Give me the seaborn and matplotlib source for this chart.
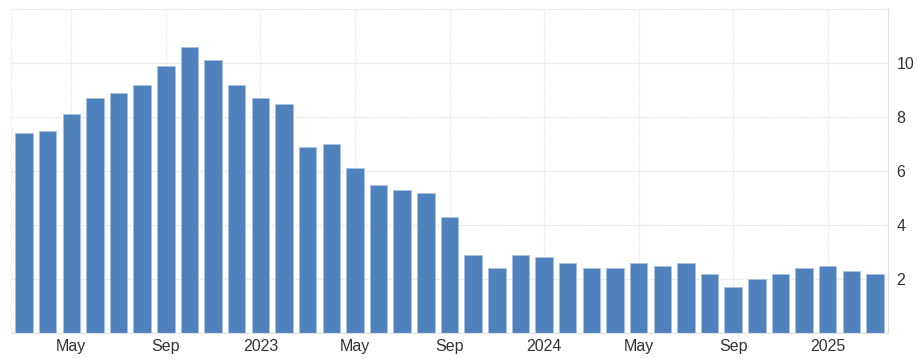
import matplotlib
matplotlib.use("Agg")
import matplotlib.pyplot as plt
import seaborn as sns
import pandas as pd

months = ["2022-03", "2022-04", "2022-05", "2022-06", "2022-07", "2022-08", "2022-09",
          "2022-10", "2022-11", "2022-12", "2023-01", "2023-02", "2023-03", "2023-04",
          "2023-05", "2023-06", "2023-07", "2023-08", "2023-09", "2023-10", "2023-11",
          "2023-12", "2024-01", "2024-02", "2024-03", "2024-04", "2024-05", "2024-06",
          "2024-07", "2024-08", "2024-09", "2024-10", "2024-11", "2024-12", "2025-01",
          "2025-02", "2025-03"]
values = [7.4, 7.5, 8.1, 8.7, 8.9, 9.2, 9.9, 10.6, 10.1, 9.2, 8.7, 8.5, 6.9, 7.0,
          6.1, 5.5, 5.3, 5.2, 4.3, 2.9, 2.4, 2.9, 2.8, 2.6, 2.4, 2.4, 2.6, 2.5,
          2.6, 2.2, 1.7, 2.0, 2.2, 2.4, 2.5, 2.3, 2.2]
tick_months = ["2022-05", "2022-09", "2023-01", "2023-05", "2023-09", "2024-01",
               "2024-05", "2024-09", "2025-01"]
tick_labels = ["May", "Sep", "2023", "May", "Sep", "2024", "May", "Sep", "2025"]
y_ticks = [2, 4, 6, 8, 10]

df = pd.DataFrame({"month": months, "value": values})

sns.set_style("white")
plt.rcParams["font.family"] = ["Liberation Sans", "DejaVu Sans"]

fig = plt.figure(figsize=(9.17, 3.59), dpi=100)
ax = fig.add_axes([11 / 917, 26 / 359, 877 / 917, 324 / 359])

sns.barplot(data=df, x="month", y="value", color="#4f81bd", saturation=1,
            width=0.74, edgecolor="#a9c1e0", linewidth=0.6, ax=ax)

ax.set_xlim(-0.55, len(months) - 0.45)
ax.set_ylim(0, 12)

ax.set_xticks([months.index(m) for m in tick_months])
ax.set_xticklabels(tick_labels, fontsize=11.5, color="#333333")
ax.set_yticks(y_ticks)
ax.set_yticklabels([str(v) for v in y_ticks], fontsize=11.5, color="#333333")
ax.yaxis.tick_right()
ax.tick_params(axis="x", length=0, pad=4)
ax.tick_params(axis="y", length=0, pad=6)
ax.set_xlabel("")
ax.set_ylabel("")

for y in [2, 4, 6, 8, 10, 12]:
    ax.axhline(y, color="#dddddd", linestyle=(0, (1, 1)), linewidth=0.8, zorder=0)
for m in tick_months:
    ax.axvline(months.index(m), color="#e6e6e6", linestyle=(0, (1, 1)), linewidth=0.8, zorder=0)
ax.set_axisbelow(True)

for side in ["top", "left"]:
    ax.spines[side].set_visible(False)
ax.spines["right"].set_color("#e0e0e0")
ax.spines["bottom"].set_color("#e0e0e0")
ax.spines["right"].set_linewidth(0.8)
ax.spines["bottom"].set_linewidth(0.8)
ax.axvline(-0.55, color="#e6e6e6", linestyle=(0, (1, 1)), linewidth=0.8, zorder=0)

fig.savefig("out.png", dpi=100)
